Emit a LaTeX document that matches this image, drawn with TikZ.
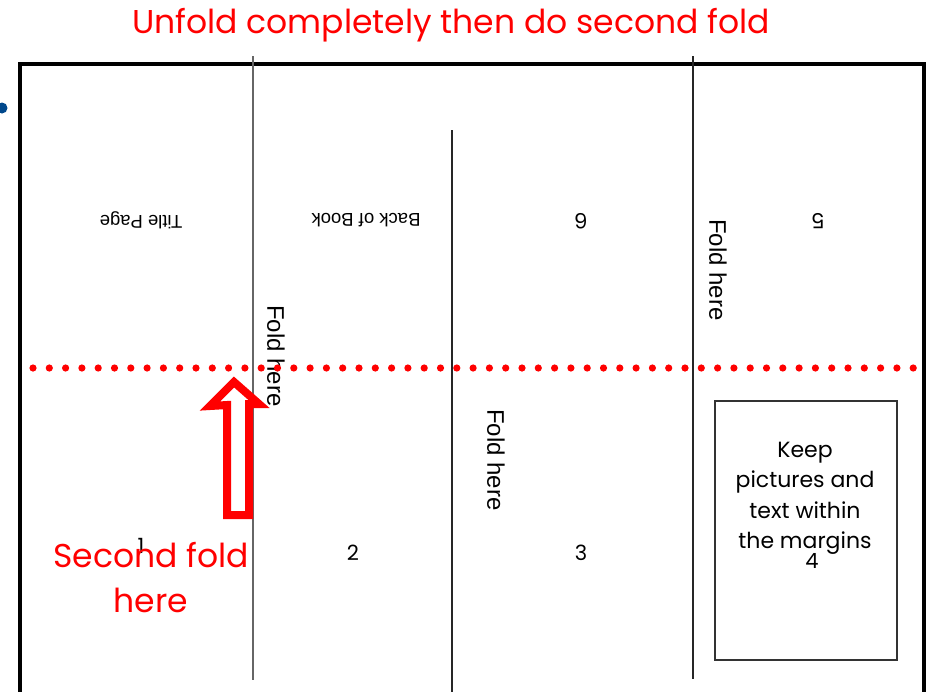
\documentclass[tikz,border=0pt]{standalone}
\usepackage{fontspec}
\setmainfont{Liberation Sans}
\newfontfamily\comic{Poppins}
\definecolor{bulletblue}{RGB}{0,72,140}
\begin{document}
\begin{tikzpicture}[x=1pt,y=-1pt,
  frame/.style={line width=3.5pt, black},
  foldline/.style={line width=1.2pt, black!85},
  redtext/.style={text=red, font=\comic\fontsize{33}{45}\selectfont, inner sep=0pt},
  flipped/.style={font=\fontsize{18.5}{20}\selectfont, rotate=180, inner sep=0pt},
  pagenum/.style={font=\comic\fontsize{21}{22}\selectfont, inner sep=0pt},
  foldlabel/.style={font=\fontsize{24}{26}\selectfont, rotate=-90, inner sep=0pt},
  dots/.style={red, line width=7.2pt, line cap=round, dash pattern=on 0pt off 16.3pt},
  hollowarrow/.style={draw=red, line width=8pt, line join=miter, fill=white}
]
\useasboundingbox (0,0) rectangle (928,691);
\fill[white] (0,0) rectangle (928,691);

% title
\node[redtext, anchor=base] (title) at (451,33) {Unfold completely then do second fold};

% bullet
\fill[bulletblue] (2,108) circle (5.5) coordinate (bullet);

% frame
\coordinate (fbl) at (20,692);
\coordinate (ftl) at (20,64);
\coordinate (ftr) at (924,64);
\coordinate (fbr) at (924,692);
\draw[frame, line join=miter] (fbl) -- (ftl) -- (ftr) -- (fbr);

% fold lines
\coordinate (f1t) at (253,56);  \coordinate (f1b) at (253,680);
\coordinate (f2t) at (452,130); \coordinate (f2b) at (452,692);
\coordinate (f3t) at (693,56);  \coordinate (f3b) at (693,679);
\draw[foldline, black!60] (f1t) -- (f1b);
\draw[foldline] (f2t) -- (f2b);
\draw[foldline] (f3t) -- (f3b);

% margin box
\node[draw=black!80, line width=1.2pt, minimum width=182pt, minimum height=259pt, inner sep=0pt] (margin) at (806,530.5) {};

% upside-down labels
\node[flipped] (titlepage) at (141,220) {Title Page};
\node[flipped] (backbook) at (366,220) {Back of Book};
\node[pagenum, rotate=180] (p6) at (581,221) {6};
\node[pagenum, rotate=180] (p5) at (818,221) {5};

% fold labels
\node[foldlabel] (fold1) at (276,356) {Fold here};
\node[foldlabel] (fold2) at (496,460) {Fold here};
\node[foldlabel] (fold3) at (718,270) {Fold here};

% page numbers
\node[pagenum] (p1) at (141,546) {1};
\node[pagenum] (p2) at (353,553) {2};
\node[pagenum] (p3) at (581,553) {3};

% keep text
\node[font=\comic\fontsize{22}{30.4}\selectfont, align=center, inner sep=0pt, anchor=north] (keep) at (805,442) {Keep\\pictures and\\text within\\the margins};
\node[pagenum] (p4) at (812,561) {4};

% dotted second fold line
\coordinate (dl) at (33,368);
\coordinate (dr) at (920,368);
\draw[dots] (dl) -- (dr);

% hollow arrow
\draw[hollowarrow] (234,382) -- (259,404) -- (249,404) -- (249,515) -- (227,515) -- (227,405) -- (210,406) -- cycle;

% second fold text
\node[redtext, align=center, anchor=base] (second) at (151,612) {Second fold\\here};
\end{tikzpicture}
\end{document}
